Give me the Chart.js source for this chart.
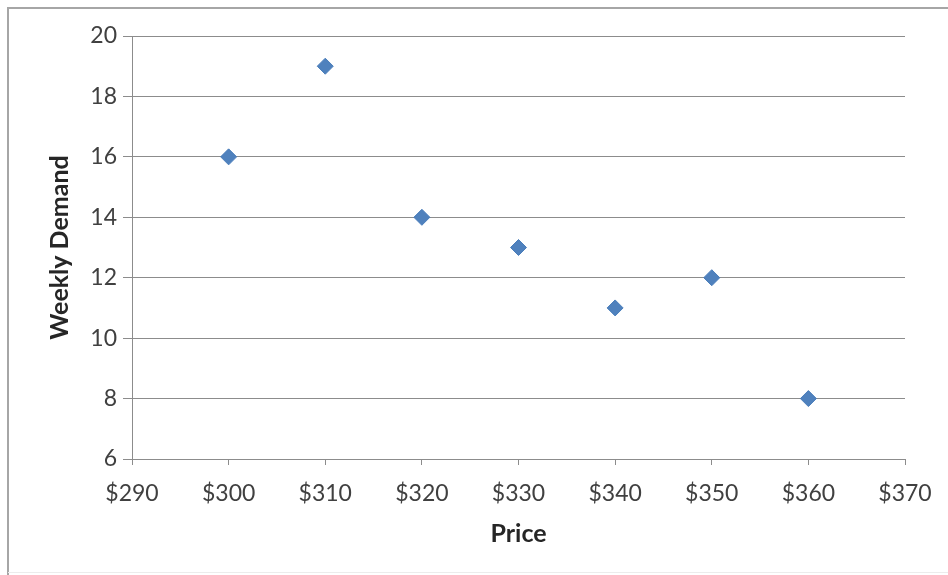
<!DOCTYPE html>
<html><head><meta charset="utf-8">
<script src="https://cdn.jsdelivr.net/npm/chart.js@4/dist/chart.umd.min.js"></script>
<style>html,body{margin:0;padding:0;background:#fff;}#wrap{width:948px;height:575px;}</style>
</head><body><div id="wrap"><canvas id="c" width="948" height="575"></canvas></div>
<script>
const prices = [300, 310, 320, 330, 340, 350, 360];
const demand = [16, 19, 14, 13, 11, 12, 8];
const xTitle = 'Price';
const yTitle = 'Weekly Demand';

const font = 'Lato';
const frame = {
  id: 'frame',
  beforeDraw(chart) {
    const ctx = chart.ctx;
    ctx.save();
    ctx.fillStyle = '#fff';
    ctx.fillRect(0, 0, chart.width, chart.height);
    ctx.strokeStyle = '#a6a6a6';
    ctx.lineWidth = 2;
    ctx.beginPath();
    ctx.moveTo(8, chart.height);
    ctx.lineTo(8, 8);
    ctx.lineTo(chart.width, 8);
    ctx.stroke();
    ctx.strokeStyle = '#ececec';
    ctx.lineWidth = 1;
    ctx.beginPath();
    ctx.moveTo(8, 572.5);
    ctx.lineTo(chart.width, 572.5);
    ctx.stroke();
    ctx.restore();
  }
};

new Chart(document.getElementById('c'), {
  type: 'scatter',
  data: {
    datasets: [{
      data: prices.map((p, i) => ({x: p, y: demand[i]})),
      pointStyle: 'rectRot',
      pointRadius: 8,
      pointHoverRadius: 8,
      backgroundColor: '#4f81bd',
      borderColor: '#4a7ebb',
      borderWidth: 1
    }]
  },
  options: {
    responsive: false,
    animation: false,
    events: [],
    layout: {padding: {left: 41, right: 43, top: 36, bottom: 22}},
    plugins: {legend: {display: false}, tooltip: {enabled: false}},
    scales: {
      x: {
        type: 'linear', min: 290, max: 370,
        afterFit(s) { s.height = 94; },
        ticks: {stepSize: 10, color: '#404040', font: {family: font, size: 23}, padding: 15,
          callback: v => '$' + v},
        grid: {drawOnChartArea: false, drawTicks: true, tickLength: 6, color: '#8c8c8c'},
        border: {color: '#8c8c8c', width: 1},
        title: {display: true, text: xTitle, color: '#262626', font: {family: font, size: 25, weight: 'bold'}, padding: {top: 4, bottom: 4}}
      },
      y: {
        min: 6, max: 20,
        afterFit(s) { s.width = 91; },
        ticks: {stepSize: 2, color: '#404040', font: {family: font, size: 23}, padding: 6},
        grid: {color: '#8c8c8c', lineWidth: 1, drawTicks: true, tickLength: 9},
        border: {color: '#8c8c8c', width: 1},
        title: {display: true, text: yTitle, color: '#262626', font: {family: font, size: 25, weight: 'bold'}, padding: {top: 4, bottom: 4}}
      }
    }
  },
  plugins: [frame]
});
</script></body></html>
